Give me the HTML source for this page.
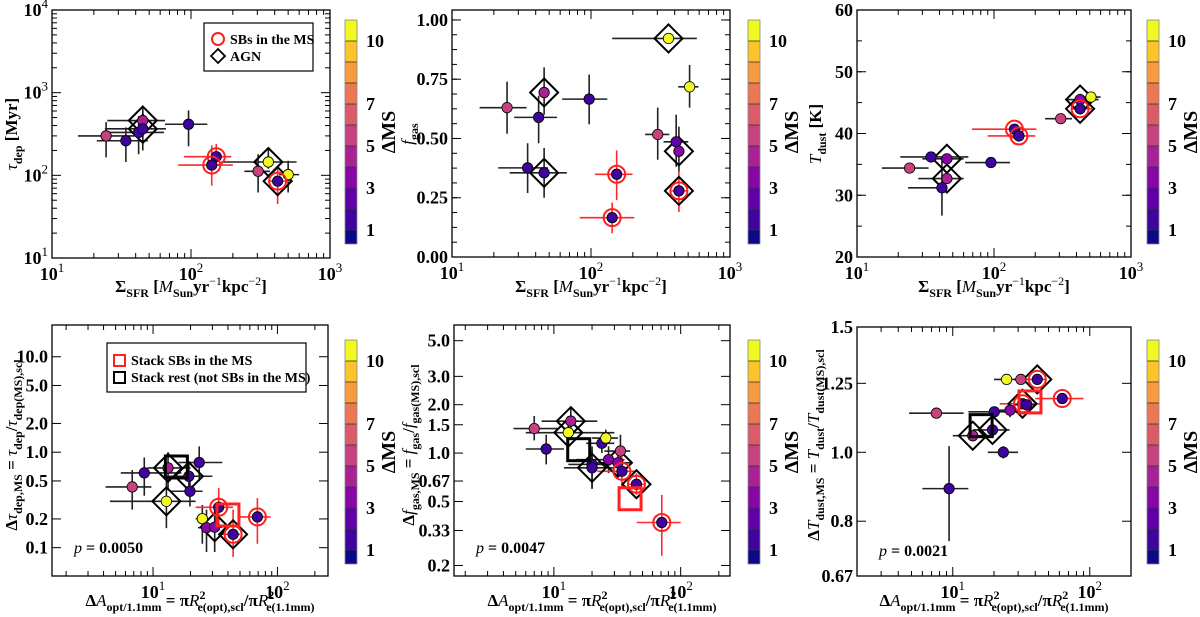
<!DOCTYPE html>
<html><head><meta charset="utf-8">
<style>
html,body{margin:0;padding:0;background:#fff;}
svg{display:block;font-family:"Liberation Serif",serif;}
</style></head>
<body>
<svg id="fig" width="1200" height="617" viewBox="0 0 1200 617" xmlns="http://www.w3.org/2000/svg"></svg>
<script>
// ---------- Panel 1: tau_dep vs Sigma_SFR ----------
const p1X=[24.5,34,42,45,45,96,152,141,360,304,500,420];
const p1Y=[300,262,330,460,365,415,168,133,145,112,102,85];
const p1Xlo=[15.4,21,25,25,24,65,89,81,165,242,430,360];
const p1Xhi=[40,49,64,65,66,131,195,200,575,370,600,540];
const p1Ylo=[165,145,180,280,200,225,130,75,120,62,62,45];
const p1Yhi=[440,380,520,700,600,610,240,230,210,180,150,125];
const p1Dms=[5.5,1.8,1.8,4.5,1.8,1.8,1.8,1.8,10.5,5.5,10.5,1.8];
const p1Sb=[0,0,0,0,0,0,1,1,0,0,0,1];
const p1Agn=[0,0,0,1,1,0,0,0,1,0,0,1];
// ---------- Panel 2: f_gas vs Sigma_SFR ----------
const p2X=[24.9,42,46,97,35,46,153,142,361,512,302,410,429,429];
const p2Y=[0.63,0.589,0.694,0.666,0.376,0.355,0.349,0.166,0.922,0.718,0.517,0.486,0.446,0.279];
const p2Xlo=[15.8,28,46,62,21.5,26,107,83,142,424,245,333,429,380];
const p2Xhi=[34.4,57,46,131,49,67,199,205,577,593,366,501,429,490];
const p2Ylo=[0.52,0.48,0.6,0.56,0.27,0.25,0.24,0.10,0.922,0.63,0.41,0.38,0.36,0.19];
const p2Yhi=[0.74,0.68,0.8,0.77,0.48,0.46,0.45,0.23,0.922,0.81,0.63,0.60,0.55,0.36];
const p2Dms=[5.5,1.8,4.5,1.8,1.8,1.8,1.8,1.8,10.5,10.5,5.5,2.8,3.5,1.8];
const p2Sb=[0,0,0,0,0,0,1,1,0,0,0,0,0,1];
const p2Agn=[0,0,1,0,0,1,0,0,1,0,0,0,1,1];
// ---------- Panel 3: T_dust vs Sigma_SFR ----------
const p3X=[24.2,34.7,45.3,45.3,41.7,95,141,152,307,510,425,425];
const p3Y=[34.4,36.2,35.9,32.7,31.2,35.3,40.7,39.6,42.4,45.9,45.5,44.0];
const p3Xlo=[15.2,20.7,30,28,23.6,61.6,69,90,236,440,340,370];
const p3Xhi=[33.3,65,60,60,44.6,131,204,200,371,600,580,520];
const p3Ylo=[34.4,36.2,35.9,32.7,26.7,34.6,40.7,39.6,42.4,45.9,45.5,44.0];
const p3Yhi=[34.4,36.2,35.9,32.7,36.0,36.1,40.7,39.6,42.4,45.9,45.5,44.0];
const p3Dms=[5.5,1.8,3.5,4.5,1.8,1.8,1.8,1.8,5.5,10.5,3.5,1.8];
const p3Sb=[0,0,0,0,0,0,1,1,0,0,0,1];
const p3Agn=[0,0,1,1,0,0,0,0,0,0,1,1];
// ---------- Panel 4: delta tau_dep vs delta A ----------
const p4X=[6.8,8.5,13.2,12.8,19.4,19.8,23.5,24.9,26.9,31.3,33.7,44,69];
const p4Y=[0.433,0.607,0.685,0.306,0.56,0.39,0.78,0.201,0.162,0.164,0.265,0.138,0.21];
const p4Xlo=[4.15,5.5,9,4.5,12,14,16,22,23,25,22,36,50];
const p4Xhi=[9.7,16.9,20,22,30,25,36,28,31,36,44,50,88];
const p4Ylo=[0.25,0.35,0.4,0.16,0.35,0.27,0.5,0.11,0.09,0.09,0.15,0.08,0.11];
const p4Yhi=[0.65,0.88,1.0,0.56,0.8,0.55,1.15,0.28,0.25,0.25,0.42,0.25,0.33];
const p4Dms=[5.5,1.8,4.5,10.5,1.8,1.8,1.8,10.5,3.5,3.5,1.8,1.8,1.8];
const p4Sb=[0,0,0,0,0,0,0,0,0,0,1,1,1];
const p4Agn=[0,0,1,1,1,0,0,0,0,1,0,1,0];
const p4StackX=[15.4,40];
const p4StackY=[0.70,0.22];
const p4StackRed=[0,1];
// ---------- Panel 5: delta f_gas vs delta A ----------
const p5X=[7.0,8.7,13.6,13.0,20,20,23.9,25.7,27,32,33.5,34.4,44.8,71];
const p5Y=[1.42,1.06,1.58,1.34,0.85,0.81,1.15,1.24,0.91,0.87,1.03,0.77,0.64,0.37];
const p5Xlo=[4.8,6,8,6,13,12,18,20,15,20,25,22,38,45];
const p5Xhi=[11,12,22,30,28,30,30,32,36,40,40,44,52,100];
const p5Ylo=[1.2,0.85,1.3,1.1,0.6,0.6,1.0,1.1,0.75,0.72,0.8,0.6,0.55,0.23];
const p5Yhi=[1.7,1.3,1.9,1.7,1.1,1.05,1.3,1.4,1.1,1.05,1.3,0.95,0.75,0.55];
const p5Dms=[5.5,1.8,4.5,10.5,1.8,1.8,1.8,10.5,3.5,3.5,5.5,1.8,1.8,1.8];
const p5Sb=[0,0,0,0,0,0,0,0,0,0,0,1,1,1];
const p5Agn=[0,0,1,1,0,1,0,0,0,1,0,0,1,0];
const p5StackX=[15.7,39.9];
const p5StackY=[1.05,0.52];
const p5StackRed=[0,1];
// ---------- Panel 6: delta T_dust vs delta A ----------
const p6X=[7.6,9.4,24.7,31.4,41.4,63,32.3,34.6,20.1,26.2,19.5,14.0,23.4];
const p6Y=[1.135,0.889,1.266,1.266,1.266,1.19,1.17,1.166,1.14,1.146,1.075,1.055,1.0];
const p6Xlo=[4.8,6,20,28,30,40,22,28,13,22,14,10,18];
const p6Xhi=[12,13,30,36,48,90,45,40,30,30,26,20,30];
const p6Ylo=[1.135,0.75,1.266,1.266,1.266,1.17,1.17,1.166,1.14,1.12,1.06,1.055,0.98];
const p6Yhi=[1.135,1.02,1.266,1.266,1.266,1.21,1.17,1.166,1.14,1.16,1.09,1.055,1.02];
const p6Dms=[5.5,1.8,10.5,5.5,1.8,1.8,1.8,1.8,1.8,3.5,1.8,4.5,1.8];
const p6Sb=[0,0,0,0,1,1,1,0,0,0,0,0,0];
const p6Agn=[0,0,0,0,1,0,1,0,0,0,1,1,0];
const p6StackX=[16.1,36.6];
const p6StackY=[1.09,1.177];
const p6StackRed=[0,1];
// colorbar bins (dMS 0..10+)
const cbColors=['#0d0887','#3f049c','#6200a8','#8606a6','#a82296','#c6437f','#dc5b68','#ec7753','#f89a3f','#fcc42a','#f0f921'];
const cbTicks=[1,3,5,7,10];

const NS='http://www.w3.org/2000/svg';
const svg=document.getElementById('fig');
function mk(tag,attrs,parent){const e=document.createElementNS(NS,tag);for(const k in attrs)e.setAttribute(k,attrs[k]);(parent||svg).appendChild(e);return e;}
function scale(log,d0,d1,p0,p1){return v=>{if(log){return p0+(Math.log10(v)-Math.log10(d0))/(Math.log10(d1)-Math.log10(d0))*(p1-p0);}return p0+(v-d0)/(d1-d0)*(p1-p0);};}
function colorOf(d){return cbColors[Math.max(0,Math.min(10,Math.floor(d)))];}
function rich(g,x,y,parts,anchor,size,rot){
  const t=mk('text',{x:x,y:y,'text-anchor':anchor,'font-size':size,'font-weight':'bold',fill:'#000'},g);
  if(rot)t.setAttribute('transform','rotate(-90 '+x+' '+y+')');
  let shift=0;
  (parts||[]).forEach(p=>{const s=p[0],k=p[1]||'';const ts=mk('tspan',{},t);let target=0,fs=size;
    if(k.includes('sub')){target=Math.round(size*0.3);fs=Math.round(size*0.72);}
    if(k.includes('sup')){target=-Math.round(size*0.42);fs=Math.round(size*0.72);}
    if(k.includes('dx'))ts.setAttribute('dx',p[2]);
    ts.setAttribute('dy',target-shift);shift=target;ts.setAttribute('font-size',fs);
    if(k.includes('i '))ts.setAttribute('font-style','italic');
    if(k.endsWith(' n'))ts.setAttribute('font-weight','normal');
    ts.textContent=s;});
  return t;
}
function decLabel(g,x,y,exp,anchor){
  return rich(g,x,y,[['10'],[String(exp),'sup n']],anchor,18);
}

function panel(cfg){
  const g=mk('g',{},svg);
  
  
  const F=cfg.frame;
  const sx=scale(cfg.xlog,cfg.xd[0],cfg.xd[1],F.l,F.r);
  const sy=scale(cfg.ylog,cfg.yd[0],cfg.yd[1],F.b,F.t);
  const tg=mk('g',{stroke:'#000','stroke-width':1},g);
  
  
  cfg.xMaj.forEach(v=>{const x=sx(v);mk('line',{x1:x,x2:x,y1:F.b,y2:F.b-9},tg);mk('line',{x1:x,x2:x,y1:F.t,y2:F.t+9},tg);});
  cfg.xMin.forEach(v=>{const x=sx(v);if(x<F.l||x>F.r)return;mk('line',{x1:x,x2:x,y1:F.b,y2:F.b-5},tg);mk('line',{x1:x,x2:x,y1:F.t,y2:F.t+5},tg);});
  cfg.yMaj.forEach(v=>{const y=sy(v);mk('line',{x1:F.l,x2:F.l+9,y1:y,y2:y},tg);mk('line',{x1:F.r,x2:F.r-9,y1:y,y2:y},tg);});
  cfg.yMin.forEach(v=>{const y=sy(v);if(y<F.t||y>F.b)return;mk('line',{x1:F.l,x2:F.l+5,y1:y,y2:y},tg);mk('line',{x1:F.r,x2:F.r-5,y1:y,y2:y},tg);});
  cfg.xMaj.forEach((v,i)=>{const l=decLabel(g,sx(v),F.b+22,cfg.xExp[i],'middle');
    
    });
  cfg.yMaj.forEach((v,i)=>{let l;
    if(cfg.yExp)l=decLabel(g,F.l-4,sy(v)+6,cfg.yExp[i],'end');
    else l=rich(g,F.l-4,sy(v)+6,[[cfg.yLab[i]]],'end',18);
    
    });
  const D=cfg.d;
  const clipId='clip'+cfg.name;
  const cp=mk('clipPath',{id:clipId},g);mk('rect',{x:F.l,y:F.t,width:F.r-F.l,height:F.b-F.t},cp);
  const dg=mk('g',{'clip-path':'url(#'+clipId+')'},g);
  
  
  D.x.forEach((xv,i)=>{const col=D.sb[i]?'#ff2a2a':'#222';const cx=sx(xv),cy=sy(D.y[i]);
    const eb=mk('path',{d:'M'+sx(D.xlo[i])+' '+cy+'H'+sx(D.xhi[i])+'M'+cx+' '+sy(D.ylo[i])+'V'+sy(D.yhi[i]),stroke:col,'stroke-width':1.6,fill:'none'},dg);
    
    });
  D.x.forEach((xv,i)=>{const cx=sx(xv),cy=sy(D.y[i]);
    if(D.agn[i]){const r=14;const dm=mk('path',{d:'M'+cx+' '+(cy-r)+'L'+(cx+r)+' '+cy+'L'+cx+' '+(cy+r)+'L'+(cx-r)+' '+cy+'Z',fill:'none',stroke:'#000','stroke-width':2},dg);
      
      }});
  D.x.forEach((xv,i)=>{const cx=sx(xv),cy=sy(D.y[i]);
    const c=mk('circle',{cx:cx,cy:cy,r:5.2,fill:colorOf(D.dms[i]),stroke:'#000','stroke-width':0.8},dg);
    
    
    if(D.sb[i]){const s=mk('circle',{cx:cx,cy:cy,r:8.5,fill:'none',stroke:'#ff2020','stroke-width':2},dg);
      
      }});
  if(D.stx)D.stx.forEach((xv,i)=>{const cx=sx(xv),cy=sy(D.sty[i]);
    const r=mk('rect',{x:cx-11,y:cy-11,width:22,height:22,fill:'none',stroke:D.str[i]?'#ff2020':'#000','stroke-width':3},dg);
    
    });
  const fr=mk('rect',{x:F.l,y:F.t,width:F.r-F.l,height:F.b-F.t,fill:'none',stroke:'#000','stroke-width':1.3},g);
  
  
  const xt=rich(g,(F.l+F.r)/2+cfg.xtOff,cfg.xtY,cfg.xTitle,'middle',17);
  
  
  const yt=rich(g,cfg.ytX,cfg.ytY,cfg.yTitle,'middle',17,true);
  
  
  if(cfg.p){const pt=rich(g,F.l+22,cfg.pY,[['p','i n'],[' = '+cfg.p]],'start',16);
    
    }
  const C=cfg.cb;const cg=mk('g',{},g);
  
  
  const ybd=k=>k===0?C.b:C.b-14-(k-1)*21;
  cbColors.forEach((col,k)=>{mk('rect',{x:C.l,y:ybd(k+1),width:12,height:ybd(k)-ybd(k+1),fill:col},cg);
    if(k>0)mk('line',{x1:C.l,x2:C.l+12,y1:ybd(k),y2:ybd(k),stroke:'#333','stroke-width':0.8},cg);});
  mk('rect',{x:C.l,y:C.t,width:12,height:C.b-C.t,fill:'none',stroke:'#888','stroke-width':0.8},cg);
  cbTicks.forEach(v=>{const t=rich(cg,C.l+21,ybd(v)+6,[[String(v)]],'start',18);
    
    });
  const ct=rich(cg,C.l+50,(C.t+C.b)/2,[['ΔMS']],'middle',20,true);
  
  
  return g;
}
function range(a,b,s){const r=[];for(let v=a;v<=b+1e-9;v+=s)r.push(+v.toFixed(4));return r;}
function logMinors(d0,d1){const r=[];for(let e=d0;e<d1;e++)for(let m=2;m<=9;m++)r.push(m*Math.pow(10,e));return r;}
const sfrTitle=[['Σ'],['SFR','sub'],[' ['],['M','i n'],['Sun','sub'],['yr'],['−1','sup n'],['kpc'],['−2','sup n'],[']']];
const dATitle=[['Δ'],['A','i n'],['opt/1.1mm','sub'],[' = π'],['R','i n'],['2','sup'],['e(opt),scl','sub dx',-8],['/π'],['R','i n'],['2','sup'],['e(1.1mm)','sub dx',-8]];
const topX={xlog:true,xd:[10,1000],xMaj:[10,100,1000],xExp:[1,2,3],xMin:logMinors(1,3),xtY:292,xtOff:0,xTitle:sfrTitle};
const botXMin=logMinors(0,2).concat([200]);

panel(Object.assign({},topX,{name:'panel-tau-dep',frame:{l:52,r:330,t:10,b:258},ylog:true,yd:[10,10000],yMaj:[10,100,1000,10000],yExp:[1,2,3,4],yMin:logMinors(1,4),
  yTitle:[['τ','i n'],['dep','sub'],[' [Myr]']],ytX:17,ytY:134,cb:{l:345,t:20,b:244},
  d:{x:p1X,y:p1Y,xlo:p1Xlo,xhi:p1Xhi,ylo:p1Ylo,yhi:p1Yhi,dms:p1Dms,sb:p1Sb,agn:p1Agn}}));
panel(Object.assign({},topX,{name:'panel-f-gas',frame:{l:452,r:730,t:10,b:257},ylog:false,yd:[0,1.042],yMaj:[0,0.25,0.5,0.75,1.0],yLab:['0.00','0.25','0.50','0.75','1.00'],yMin:range(0,1.0,0.0625),
  yTitle:[['f','i n'],['gas','sub']],ytX:413,ytY:134,cb:{l:748,t:20,b:244},
  d:{x:p2X,y:p2Y,xlo:p2Xlo,xhi:p2Xhi,ylo:p2Ylo,yhi:p2Yhi,dms:p2Dms,sb:p2Sb,agn:p2Agn}}));
panel(Object.assign({},topX,{name:'panel-t-dust',frame:{l:857,r:1131,t:10,b:257},ylog:false,yd:[20,60],yMaj:[20,30,40,50,60],yLab:['20','30','40','50','60'],yMin:range(20,60,5),
  yTitle:[['T','i n'],['dust','sub'],[' [K]']],ytX:821,ytY:134,cb:{l:1147,t:20,b:244},
  d:{x:p3X,y:p3Y,xlo:p3Xlo,xhi:p3Xhi,ylo:p3Ylo,yhi:p3Yhi,dms:p3Dms,sb:p3Sb,agn:p3Agn}}));
panel({name:'panel-delta-tau',frame:{l:52,r:328,t:325,b:576},xlog:true,xd:[1.54,255],xMaj:[10,100],xExp:[1,2],xMin:botXMin,xtY:606,xtOff:10,xTitle:dATitle,
  ylog:true,yd:[0.0505,21.5],yMaj:[0.1,0.2,0.5,1,2,5,10],yLab:['0.1','0.2','0.5','1.0','2.0','5.0','10.0'],yMin:[],
  yTitle:[['Δ'],['τ','i n'],['dep,MS','sub'],[' = '],['τ','i n'],['dep','sub'],['/'],['τ','i n'],['dep(MS),scl','sub']],ytX:17,ytY:445,p:'0.0050',pY:553,
  cb:{l:345,t:340,b:564},
  d:{x:p4X,y:p4Y,xlo:p4Xlo,xhi:p4Xhi,ylo:p4Ylo,yhi:p4Yhi,dms:p4Dms,sb:p4Sb,agn:p4Agn,stx:p4StackX,sty:p4StackY,str:p4StackRed}});
panel({name:'panel-delta-fgas',frame:{l:454,r:730,t:325,b:576},xlog:true,xd:[1.63,245],xMaj:[10,100],xExp:[1,2],xMin:botXMin,xtY:606,xtOff:10,xTitle:dATitle,
  ylog:true,yd:[0.172,6.26],yMaj:[0.2,0.33,0.5,0.67,1,1.5,2,3,5],yLab:['0.2','0.33','0.5','0.67','1.0','1.5','2.0','3.0','5.0'],yMin:[],
  yTitle:[['Δ'],['f','i n'],['gas,MS','sub'],[' = '],['f','i n'],['gas','sub'],['/'],['f','i n'],['gas(MS),scl','sub']],ytX:414,ytY:445,p:'0.0047',pY:553,
  cb:{l:748,t:340,b:564},
  d:{x:p5X,y:p5Y,xlo:p5Xlo,xhi:p5Xhi,ylo:p5Ylo,yhi:p5Yhi,dms:p5Dms,sb:p5Sb,agn:p5Agn,stx:p5StackX,sty:p5StackY,str:p5StackRed}});
panel({name:'panel-delta-tdust',frame:{l:857,r:1131,t:327,b:576},xlog:true,xd:[2,200],xMaj:[10,100],xExp:[1,2],xMin:botXMin,xtY:606,xtOff:0,xTitle:dATitle,
  ylog:true,yd:[0.67,1.5],yMaj:[0.67,0.8,1,1.25,1.5],yLab:['0.67','0.8','1.0','1.25','1.5'],yMin:[],
  yTitle:[['Δ'],['T','i n'],['dust,MS','sub'],[' = '],['T','i n'],['dust','sub'],['/'],['T','i n'],['dust(MS),scl','sub']],ytX:819,ytY:445,p:'0.0021',pY:556,
  cb:{l:1147,t:340,b:564},
  d:{x:p6X,y:p6Y,xlo:p6Xlo,xhi:p6Xhi,ylo:p6Ylo,yhi:p6Yhi,dms:p6Dms,sb:p6Sb,agn:p6Agn,stx:p6StackX,sty:p6StackY,str:p6StackRed}});

const lg1=mk('g',{},svg);


mk('rect',{x:204,y:23,width:109,height:48,fill:'#fff',stroke:'#000','stroke-width':1.2},lg1);
mk('circle',{cx:218,cy:39,r:6,fill:'none',stroke:'#ff2020','stroke-width':2},lg1);
mk('path',{d:'M218 49L225 56L218 63L211 56Z',fill:'none',stroke:'#000','stroke-width':1.8},lg1);
const l1a=rich(lg1,230,44,[['SBs in the MS']],'start',14);


const l1b=rich(lg1,230,61,[['AGN']],'start',14);


const lg2=mk('g',{},svg);


mk('rect',{x:107,y:343,width:199,height:49,fill:'#fff',stroke:'#000','stroke-width':1.2},lg2);
mk('rect',{x:114,y:355,width:11,height:11,fill:'none',stroke:'#ff2020','stroke-width':2},lg2);
mk('rect',{x:114,y:372,width:11,height:11,fill:'none',stroke:'#000','stroke-width':2},lg2);
const l2a=rich(lg2,131,365,[['Stack SBs in the MS']],'start',14);


const l2b=rich(lg2,131,382,[['Stack rest (not SBs in the MS)']],'start',14);


</script>
</body></html>
